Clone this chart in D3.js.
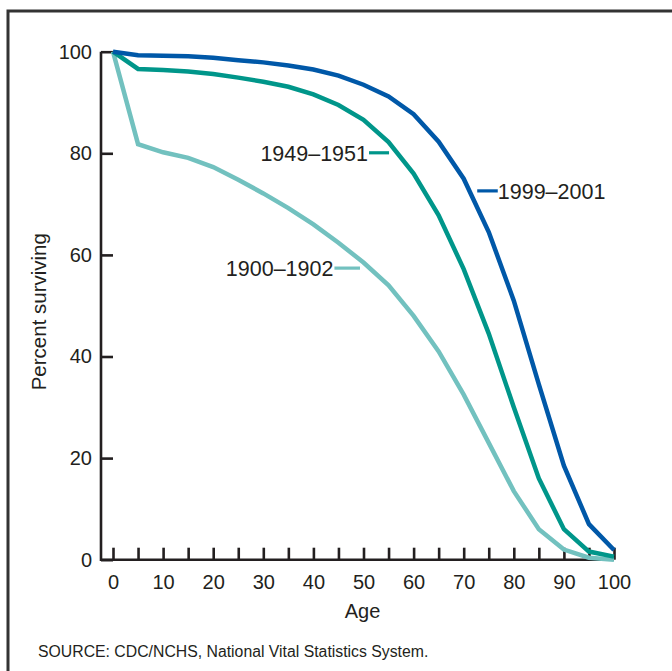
<!DOCTYPE html>
<meta charset="utf-8">
<script src="https://d3js.org/d3.v7.min.js"></script>
<style>
    body { margin: 0; background: #fff; }
    text { font-family: "Liberation Sans", Arial, Helvetica, sans-serif; fill: #231f20; }
</style>
<body>
</body>
<script>
    // Ages (x) and percent surviving for each period
    var ages = [0, 5, 10, 15, 20, 25, 30, 35, 40, 45, 50, 55, 60, 65, 70, 75, 80, 85, 90, 95, 100];
    var s1900 = [100, 81.8, 80.2, 79.1, 77.3, 74.8, 72.1, 69.2, 66.0, 62.4, 58.5, 54.0, 48.0, 41.0, 32.5, 23.0, 13.5, 6.0, 2.0, 0.4, 0];
    var s1949 = [100, 96.6, 96.4, 96.1, 95.6, 94.9, 94.1, 93.1, 91.6, 89.5, 86.6, 82.2, 76.0, 67.8, 57.2, 44.5, 30.0, 16.0, 6.0, 1.6, 0.6];
    var s1999 = [100, 99.3, 99.2, 99.1, 98.8, 98.3, 97.9, 97.3, 96.5, 95.3, 93.5, 91.2, 87.7, 82.3, 75.0, 64.5, 51.0, 34.5, 18.5, 7.0, 1.9];
    var yTicks = [0, 20, 40, 60, 80, 100];
    var xTicks = d3.range(0, 101, 5);

    // label anchors in data units: [leader start age, leader end age, percent]
    var series = [
        {name: "1900\u20131902", values: s1900, color: "#72c1bf", label: [44.2, 49.3, 57.4], side: "left"},
        {name: "1949\u20131951", values: s1949, color: "#00968a", label: [51.1, 55.1, 80.1], side: "left"},
        {name: "1999\u20132001", values: s1999, color: "#0058a8", label: [72.7, 76.8, 72.6], side: "right"}
    ];

    var width = 672, height = 671;

    var svg = d3.select("body")
            .append("svg")
                .attr("width", width)
                .attr("height", height);

    // frame (only top and left edges show in the picture)
    svg.append("path")
        .attr("d", "M8,680 L8,11 L680,11")
        .attr("fill", "none")
        .attr("stroke", "#333")
        .attr("stroke-width", 3);

    var x = d3.scaleLinear().domain([0, 100]).range([113, 614]);
    var y = d3.scaleLinear().domain([0, 100]).range([559.7, 51.7]);

    // axis lines
    var axisX0 = x(0) - 12;
    svg.append("path")
        .attr("d", "M" + axisX0 + "," + y(100) + " L" + axisX0 + "," + y(0) + " L" + x(100) + "," + y(0))
        .attr("fill", "none")
        .attr("stroke", "#231f20")
        .attr("stroke-width", 2.6);

    var yAxis = d3.axisLeft(y).tickValues(yTicks).tickSizeInner(-12).tickSizeOuter(0).tickPadding(9);
    var gy = svg.append("g")
        .attr("transform", "translate(" + axisX0 + ",0)")
        .call(yAxis);
    gy.select(".domain").remove();
    gy.selectAll(".tick line").attr("stroke", "#231f20").attr("stroke-width", 2.6);
    gy.selectAll(".tick text").style("font-size", "20px").attr("fill", "#231f20");

    var xAxis = d3.axisBottom(x).tickValues(xTicks).tickSizeInner(-12).tickSizeOuter(0).tickPadding(15)
        .tickFormat(function(d) { return d % 10 === 0 ? d : ""; });
    var gx = svg.append("g")
        .attr("transform", "translate(0," + y(0) + ")")
        .call(xAxis);
    gx.select(".domain").remove();
    gx.selectAll(".tick line").attr("stroke", "#231f20").attr("stroke-width", 2.6);
    gx.selectAll(".tick text").style("font-size", "20px").attr("fill", "#231f20");

    // axis titles
    svg.append("text")
        .attr("x", (x(0) + x(100)) / 2 - 1)
        .attr("y", 618)
        .attr("text-anchor", "middle")
        .style("font-size", "20px")
        .text("Age");

    svg.append("text")
        .attr("transform", "translate(46," + (y(50) + 6) + ") rotate(-90)")
        .attr("text-anchor", "middle")
        .style("font-size", "20.5px")
        .text("Percent surviving");

    // survival lines
    var line = d3.line()
        .x(function(d, i) { return x(ages[i]); })
        .y(function(d) { return y(d); });

    series.forEach(function(s) {
        svg.append("path")
            .attr("d", line(s.values))
            .attr("fill", "none")
            .attr("stroke", s.color)
            .attr("stroke-width", 4.5)
            .attr("stroke-linejoin", "miter");

        var l = s.label;
        svg.append("line")
            .attr("x1", x(l[0])).attr("x2", x(l[1]))
            .attr("y1", y(l[2])).attr("y2", y(l[2]))
            .attr("stroke", s.color)
            .attr("stroke-width", 3.2);

        svg.append("text")
            .attr("x", s.side === "left" ? x(l[0]) - 1 : x(l[1]))
            .attr("y", y(l[2]) + 8)
            .attr("text-anchor", s.side === "left" ? "end" : "start")
            .style("font-size", "21.5px")
            .text(s.name);
    });

    svg.append("text")
        .attr("x", 38)
        .attr("y", 657)
        .style("font-size", "15.8px")
        .text("SOURCE: CDC/NCHS, National Vital Statistics System.");
</script>
